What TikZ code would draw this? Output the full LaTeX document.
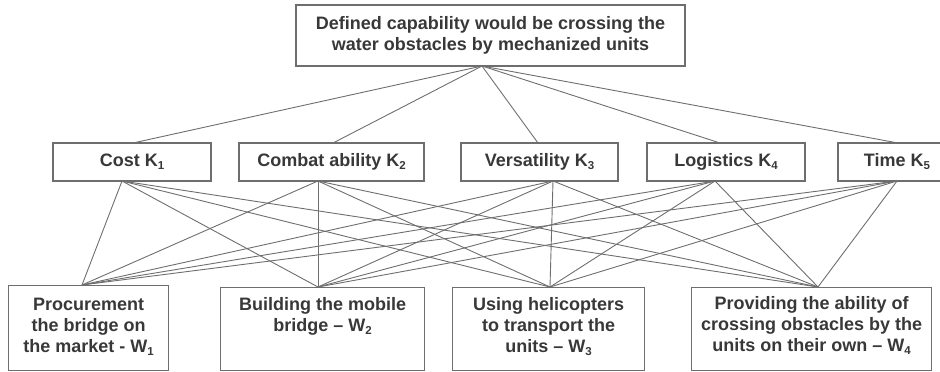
\documentclass[tikz,border=0pt]{standalone}
\usepackage{fontspec}
\setmainfont{Liberation Sans}
\definecolor{ink}{HTML}{383838}
\definecolor{edge}{HTML}{6E6E6E}
% lowered small index after a letter, e.g. K1
\newcommand\subidx[1]{\raisebox{-3pt}{\fontsize{11.5}{11.5}\selectfont #1}}
% top-aligned box text: width, height, first-line strut, text
\newcommand\wtext[4]{\parbox[b][#2][t]{#1}{\centering\rule{0pt}{#3}#4}}

\begin{document}
\begin{tikzpicture}[x=1pt,y=-1pt,
  box/.style={draw=edge, line width=1.3pt, inner sep=0pt, text=ink,
    font=\fontsize{18}{21}\selectfont\bfseries},
  crit/.style={box, minimum height=38pt, text height=13pt, text depth=4.5pt},
  link/.style={draw=edge, line width=0.9pt}]
\useasboundingbox (0,0) rectangle (940,372);

% goal
\node[box, minimum width=389pt, minimum height=61pt, align=center] (goal) at (490.5,35.5)
  {Defined capability would be crossing the\\ water obstacles by mechanized units};

% criteria
\node[crit, minimum width=158pt] (k1) at (132,162)   {Cost K\subidx{1}};
\node[crit, minimum width=185pt] (k2) at (331.5,162) {Combat ability K\subidx{2}};
\node[crit, minimum width=157pt] (k3) at (539.5,162) {Versatility K\subidx{3}};
\node[crit, minimum width=158pt] (k4) at (726,162)   {Logistics K\subidx{4}};
\node[crit, minimum width=118pt] (k5) at (897,162)   {Time K\subidx{5}};

% variants
\node[box, anchor=north west] (w1) at (8,285)
  {\wtext{160pt}{85pt}{25pt}{Procurement\\ the bridge on\\ the market - W\subidx{1}}};
\node[box, anchor=north west] (w2) at (220,287)
  {\wtext{204pt}{83pt}{23pt}{Building the mobile\\ bridge -- W\subidx{2}}};
\node[box, anchor=north west] (w3) at (452,287)
  {\wtext{192pt}{83pt}{23pt}{Using helicopters\\ to transport the\\ units -- W\subidx{3}}};
\node[box, anchor=north west] (w4) at (691,287)
  {\wtext{240pt}{83pt}{22pt}{Providing the ability of\\ crossing obstacles by the\\ units on their own -- W\subidx{4}}};

% attachment points
\coordinate (gb) at (482,66);
\coordinate (k1t) at (133,143); \coordinate (k1b) at (122,181);
\coordinate (k2t) at (333,143); \coordinate (k2b) at (318,181);
\coordinate (k3t) at (538,143); \coordinate (k3b) at (553,181);
\coordinate (k4t) at (720,143); \coordinate (k4b) at (715,181);
\coordinate (k5t) at (898,143); \coordinate (k5b) at (897,181);
\coordinate (w1t) at (82,285);
\coordinate (w2t) at (318,287);
\coordinate (w3t) at (550,287);
\coordinate (w4t) at (818,287);

% goal to criteria
\foreach \k in {1,...,5} \draw[link] (gb) -- (k\k t);
% every criterion to every variant
\foreach \k in {1,...,5}
  \foreach \w in {1,...,4}
    \draw[link] (k\k b) -- (w\w t);
\end{tikzpicture}
\end{document}
